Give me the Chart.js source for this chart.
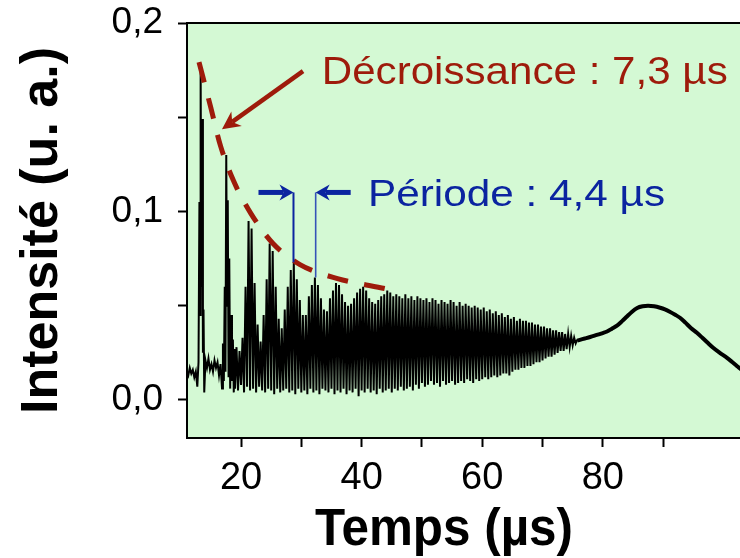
<!DOCTYPE html>
<html>
<head>
<meta charset="utf-8">
<script src="https://cdn.jsdelivr.net/npm/chart.js@4.4.1/dist/chart.umd.min.js"></script>
<style>
  html, body { margin: 0; padding: 0; background: #fff; }
  #wrap { width: 740px; height: 558px; }
</style>
</head>
<body>
<div id="wrap"><canvas id="myChart" width="740" height="558"></canvas></div>
<script>
// signal (time in µs, intensity in a.u.)
const signalTime = [
  11, 11.25, 11.5, 11.75, 12, 12.25, 12.5, 12.75,
  12.95, 13.1, 13.2, 13.3, 13.42, 13.55, 13.68, 13.78,
  13.9, 14.1, 14.35, 14.6, 14.85, 15.1, 15.35, 15.6,
  15.85, 16.1, 16.35, 16.6, 16.85, 17, 17.15, 17.3,
  17.42, 17.55, 17.68, 17.8, 17.93, 18.05, 18.2, 18.35,
  18.5, 18.65, 18.8, 18.9,
  19, 19.25, 19.5, 19.75, 20, 20.25, 20.5, 20.75,
  21, 21.25, 21.5, 21.75, 22, 22.25, 22.5, 22.75,
  23, 23.25, 23.5, 23.75, 24, 24.25, 24.5, 24.75,
  25, 25.25, 25.5, 25.75, 26, 26.25, 26.5, 26.75,
  27, 27.25, 27.5, 27.75, 28, 28.25, 28.5, 28.75,
  29, 29.25, 29.5, 29.75, 30, 30.25, 30.5, 30.75,
  31, 31.25, 31.5, 31.75, 32, 32.25, 32.5, 32.75,
  33, 33.25, 33.5, 33.75, 34, 34.25, 34.5, 34.75,
  35, 35.25, 35.5, 35.75, 36, 36.25, 36.5, 36.75,
  37, 37.25, 37.5, 37.75, 38, 38.25, 38.5, 38.75,
  39, 39.25, 39.5, 39.75, 40, 40.25, 40.5, 40.75,
  41, 41.25, 41.5, 41.75, 42, 42.25, 42.5, 42.75,
  43, 43.25, 43.5, 43.75, 44, 44.25, 44.5, 44.75,
  45, 45.25, 45.5, 45.75, 46, 46.25, 46.5, 46.75,
  47, 47.25, 47.5, 47.75, 48, 48.25, 48.5, 48.75,
  49, 49.25, 49.5, 49.75, 50, 50.25, 50.5, 50.75,
  51, 51.25, 51.5, 51.75, 52, 52.25, 52.5, 52.75,
  53, 53.25, 53.5, 53.75, 54, 54.25, 54.5, 54.75,
  55, 55.25, 55.5, 55.75, 56, 56.25, 56.5, 56.75,
  57, 57.25, 57.5, 57.75, 58, 58.25, 58.5, 58.75,
  59, 59.25, 59.5, 59.75, 60, 60.25, 60.5, 60.75,
  61, 61.25, 61.5, 61.75, 62, 62.25, 62.5, 62.75,
  63, 63.25, 63.5, 63.75, 64, 64.25, 64.5, 64.75,
  65, 65.25, 65.5, 65.75, 66, 66.25, 66.5, 66.75,
  67, 67.25, 67.5, 67.75, 68, 68.25, 68.5, 68.75,
  69, 69.25, 69.5, 69.75, 70, 70.25, 70.5, 70.75,
  71, 71.25, 71.5, 71.75, 72, 72.25, 72.5, 72.75,
  73, 73.25, 73.5, 73.75, 74, 74.25, 74.5, 74.75,
  75, 75.25, 75.5, 75.75
];
const signalIntensity = [
  .015, .013, .017, .014, .016, .012, .015, .007,
  .020, .105, .045, .178, .060, .149, .025, .048,
  .004, .021, .017, .022, .016, .019, .015, .021,
  .017, .020, .013, .019, .006, .030, .010, .060,
  .015, .130, .050, .106, .012, .075, .006, .045,
  .010, .032, .004, .027,
  .006, .028, .005, .026, .008, .033, .004, .060,
  .007, .095, .005, .091, .006, .062, .004, .040,
  .007, .031, .005, .045, .004, .064, .006, .083,
  .005, .079, .003, .060, .006, .043, .004, .038,
  .005, .048, .006, .060, .004, .069, .005, .073,
  .003, .064, .006, .053, .004, .045, .005, .045,
  .003, .055, .006, .061, .004, .065, .005, .061,
  .003, .054, .006, .048, .005, .047, .004, .054,
  .006, .058, .003, .062, .005, .061, .004, .056,
  .006, .052, .003, .050, .005, .051, .004, .054,
  .006, .057, .002, .059, .005, .060, .004, .058,
  .006, .054, .004, .052, .005, .051, .003, .053,
  .006, .055, .004, .056, .005, .058, .006, .057,
  .004, .055, .006, .056, .005, .055, .007, .054,
  .005, .056, .006, .054, .007, .055, .005, .053,
  .008, .055, .006, .054, .009, .053, .007, .054,
  .008, .052, .010, .054, .008, .053, .009, .051,
  .007, .053, .010, .052, .008, .051, .009, .053,
  .010, .052, .008, .050, .009, .052, .010, .050,
  .009, .051, .011, .050, .010, .049, .009, .050,
  .011, .049, .010, .048, .011, .049, .012, .047,
  .011, .048, .012, .046, .013, .047, .012, .045,
  .013, .046, .014, .044, .014, .045, .013, .043,
  .015, .044, .016, .042, .016, .043, .017, .042,
  .017, .042, .018, .041, .018, .041, .019, .040,
  .020, .040, .020, .039, .021, .039, .022, .038,
  .023, .038, .023, .037, .024, .037, .025, .036,
  .026, .036, .026, .035, .027, .035, .028, .034,
  .029, .033, .030, .032
];

// slow bump after the oscillations stop
const bumpTime = [75.75, 76.2, 77, 77.9, 79, 80, 80.7, 81.5, 82.35, 83.2, 84, 84.8, 85.7, 86.6, 87.5,
  88.5, 89.5, 90.3, 91.1, 92, 92.8, 93.7, 94.6, 95.6, 96.5, 97.4, 98.3, 99.4, 100.6, 101.5, 102.4, 103];
const bumpIntensity = [.0315, .0319, .0326, .0334, .0345, .0355, .0363, .0378, .0394, .0418, .0443, .0467, .0488, .0497, .0500,
  .0497, .0489, .0480, .0468, .0452, .0436, .0410, .0382, .0356, .0330, .0303, .0277, .0250, .0223, .0200, .0176, .0160];

// dashed decay envelope drawn over the peaks
const decayTime = [13.03, 14.99, 16.6, 18.72, 21.62, 25.3, 29.78, 36.0, 43.88];
const decayIntensity = [.1793, .1551, .1348, .1165, .0990, .0830, .0718, .0644, .0591];

// period markers (peak times and their tops)
const periodTime = [28.7, 32.38];
const periodTop = [.073, .065];

const xTickValues = [20, 30, 40, 50, 60, 70, 80, 90];
const xTickLabels = ['20', '', '40', '', '60', '', '80', ''];
const yTickValues = [0, 0.05, 0.1, 0.15, 0.2];
const yTickLabels = ['0,0', '', '0,1', '', '0,2'];

const FONT = "'Liberation Sans', Arial, Helvetica, sans-serif";
const RED = '#9e1b0b';
const BLUE = '#0b24a0';
const PLOT_BG = '#d4f9d4';

function toPoints(xs, ys) {
    return xs.map((x, i) => ({x: x, y: ys[i]}));
}

function fitText(ctx, text, x, y, size, weight, width, color) {
    ctx.save();
    ctx.font = weight + ' ' + size + 'px ' + FONT;
    const w = ctx.measureText(text).width;
    ctx.translate(x, y);
    ctx.scale(width / w, 1);
    ctx.fillStyle = color;
    ctx.textBaseline = 'alphabetic';
    ctx.textAlign = 'left';
    ctx.fillText(text, 0, 0);
    ctx.restore();
}

function arrow(ctx, x1, y1, x2, y2, color, lw, headLen, headHalf) {
    const a = Math.atan2(y2 - y1, x2 - x1);
    const c = Math.cos(a), s = Math.sin(a);
    const bx = x2 - headLen * c, by = y2 - headLen * s;
    const nx = x2 - headLen * 0.7 * c, ny = y2 - headLen * 0.7 * s;
    ctx.save();
    ctx.strokeStyle = color;
    ctx.lineWidth = lw;
    ctx.beginPath();
    ctx.moveTo(x1, y1);
    ctx.lineTo(nx, ny);
    ctx.stroke();
    ctx.fillStyle = color;
    ctx.beginPath();
    ctx.moveTo(x2, y2);
    ctx.lineTo(bx + headHalf * s, by - headHalf * c);
    ctx.lineTo(nx, ny);
    ctx.lineTo(bx - headHalf * s, by + headHalf * c);
    ctx.closePath();
    ctx.fill();
    ctx.restore();
}

const plotDecor = {
    id: 'plotDecor',
    beforeDraw(chart) {
        const {ctx, chartArea: a} = chart;
        ctx.save();
        ctx.fillStyle = PLOT_BG;
        ctx.fillRect(a.left, a.top, a.right - a.left, a.bottom - a.top);
        ctx.restore();
    },
    afterDatasetsDraw(chart) {
        const {ctx, chartArea: a} = chart;
        const x = chart.scales.x, y = chart.scales.y;

        // red arrow + label
        arrow(ctx, x.getPixelForValue(30.28), y.getPixelForValue(0.1745),
            x.getPixelForValue(16.84), y.getPixelForValue(0.1436), RED, 4.5, 18, 9);
        fitText(ctx, 'Décroissance : 7,3 µs', x.getPixelForValue(33.38), y.getPixelForValue(0.1676),
            38, 'normal', 406, RED);

        // blue period markers
        const ay = y.getPixelForValue(0.1101);
        const p1 = x.getPixelForValue(periodTime[0]);
        const p2 = x.getPixelForValue(periodTime[1]);
        ctx.save();
        ctx.strokeStyle = BLUE;
        ctx.lineWidth = 2;
        ctx.beginPath();
        ctx.moveTo(p1, ay);
        ctx.lineTo(p1, y.getPixelForValue(periodTop[0]));
        ctx.stroke();
        ctx.strokeStyle = '#3553b8';
        ctx.lineWidth = 1.6;
        ctx.beginPath();
        ctx.moveTo(p2, ay);
        ctx.lineTo(p2, y.getPixelForValue(periodTop[1]));
        ctx.stroke();
        ctx.restore();
        arrow(ctx, p1 - 35, ay, p1, ay, BLUE, 5, 14, 8);
        arrow(ctx, p2 + 35, ay, p2, ay, BLUE, 5, 14, 8);
        fitText(ctx, 'Période : 4,4 µs', x.getPixelForValue(41.06), y.getPixelForValue(0.1028),
            37, 'normal', 297, BLUE);

        // top frame line
        ctx.save();
        ctx.strokeStyle = '#000';
        ctx.lineWidth = 2;
        ctx.beginPath();
        ctx.moveTo(a.left, a.top);
        ctx.lineTo(a.right, a.top);
        ctx.stroke();
        ctx.restore();
    },
    afterDraw(chart) {
        const {ctx, chartArea: a} = chart;
        fitText(ctx, 'Temps (µs)', a.left + 128, 545, 51, 'bold', 258, '#000');
    }
};

document.addEventListener('DOMContentLoaded', () => {
    const ctx = document.getElementById('myChart').getContext('2d');

    const myChart = new Chart(ctx, {
        type: 'line',
        data: {
            datasets: [{
                label: 'Décroissance',
                data: toPoints(decayTime, decayIntensity),
                borderColor: RED,
                borderWidth: 5,
                borderDash: [21, 16.5],
                pointRadius: 0,
                cubicInterpolationMode: 'monotone',
                order: 0
            }, {
                label: 'Bosse',
                data: toPoints(bumpTime, bumpIntensity),
                borderColor: '#000',
                borderWidth: 4,
                pointRadius: 0,
                cubicInterpolationMode: 'monotone',
                order: 1
            }, {
                label: 'Signal',
                data: toPoints(signalTime, signalIntensity),
                borderColor: '#000',
                borderWidth: 2,
                pointRadius: 0,
                tension: 0,
                order: 2
            }]
        },
        options: {
            responsive: false,
            animation: false,
            events: [],
            layout: {
                autoPadding: false,
                padding: {top: 23, right: 0, bottom: 0, left: 0}
            },
            plugins: {
                legend: {display: false},
                tooltip: {enabled: false}
            },
            scales: {
                x: {
                    type: 'linear',
                    min: 11.04,
                    max: 102.75,
                    afterFit: s => {
                        s.height = 120;
                        s.paddingLeft = 0;
                        s.paddingRight = 0;
                    },
                    afterBuildTicks: s => { s.ticks = xTickValues.map(v => ({value: v})); },
                    grid: {
                        drawOnChartArea: false,
                        drawTicks: true,
                        tickLength: 9,
                        tickWidth: 2,
                        tickColor: '#000'
                    },
                    border: {display: true, color: '#000', width: 2},
                    ticks: {
                        autoSkip: false,
                        maxRotation: 0,
                        padding: 9,
                        color: '#000',
                        font: {family: FONT, size: 38},
                        callback: (v, i) => xTickLabels[i]
                    }
                },
                y: {
                    min: -0.0202,
                    max: 0.2,
                    afterFit: s => {
                        s.width = 187;
                        s.paddingTop = 0;
                        s.paddingBottom = 0;
                    },
                    afterBuildTicks: s => { s.ticks = yTickValues.map(v => ({value: v})); },
                    grid: {
                        drawOnChartArea: false,
                        drawTicks: true,
                        tickLength: 9,
                        tickWidth: 2,
                        tickColor: '#000'
                    },
                    border: {display: true, color: '#000', width: 2},
                    ticks: {
                        autoSkip: false,
                        padding: 15,
                        color: '#000',
                        font: {family: FONT, size: 37},
                        callback: (v, i) => yTickLabels[i]
                    },
                    title: {
                        display: true,
                        text: 'Intensité (u. a.)',
                        color: '#000',
                        font: {family: FONT, size: 52, weight: 'bold'},
                        padding: {top: 11, bottom: 0}
                    }
                }
            }
        },
        plugins: [plotDecor]
    });
});
</script>
</body>
</html>
